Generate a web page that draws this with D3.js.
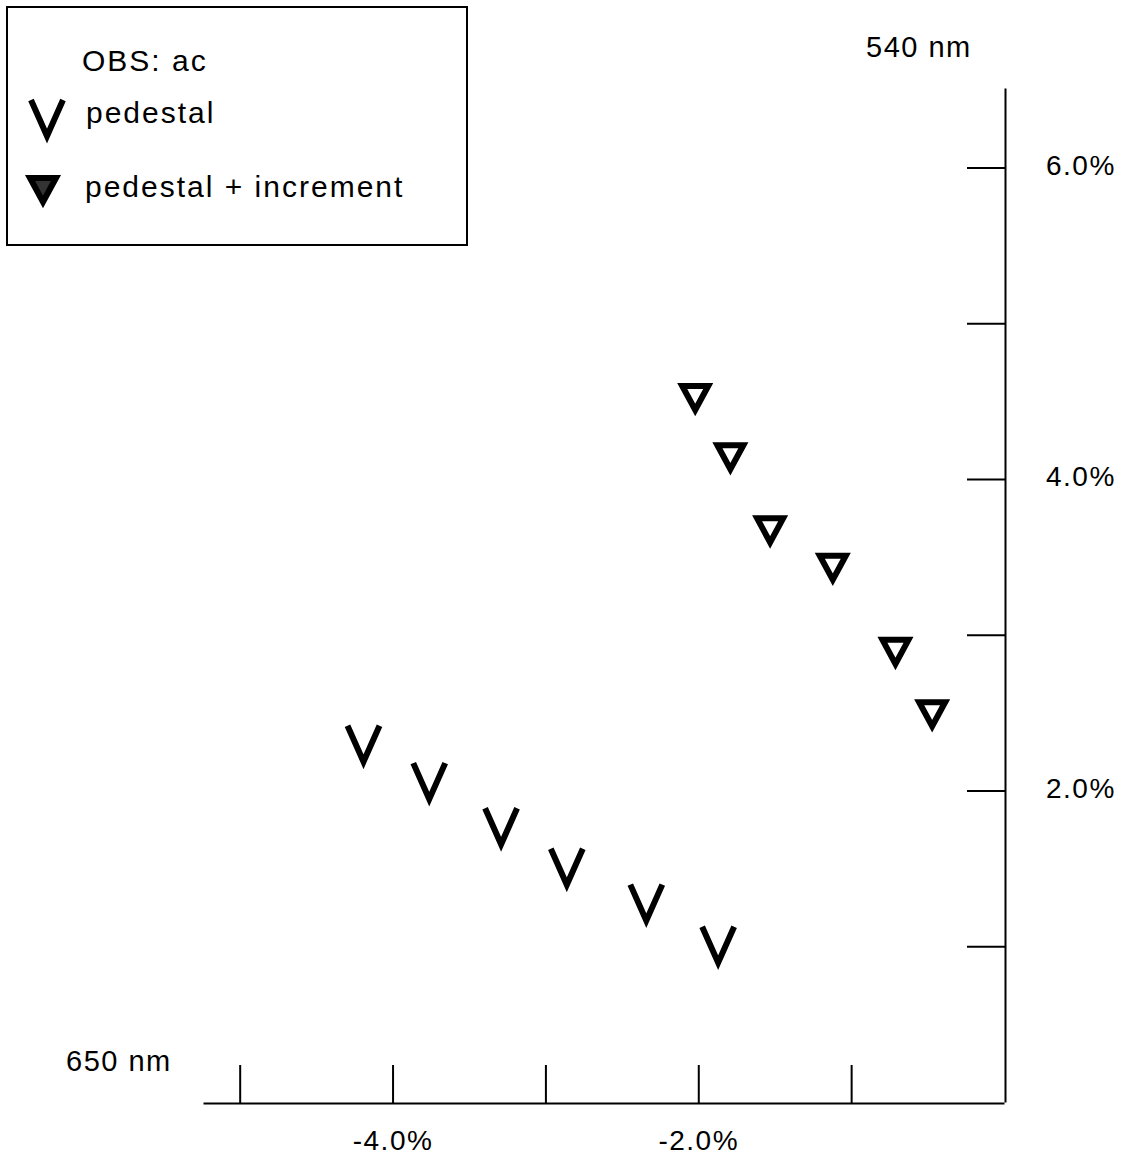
<!DOCTYPE html>
<html>
<head>
<meta charset="utf-8">
<script src="https://cdn.jsdelivr.net/npm/d3@7"></script>
<style>
  body { margin: 0; background: #fff; }
  svg { display: block; font-family: "Liberation Sans", Arial, Helvetica, sans-serif; }
</style>
</head>
<body>
<div id="chart"></div>
<script>
// values (percent)
const pedestalX = [-4.19, -3.76, -3.29, -2.86, -2.34, -1.87];
const pedestalY = [2.30, 2.06, 1.77, 1.51, 1.28, 1.01];
const incrementX = [-2.02, -1.79, -1.53, -1.12, -0.71, -0.47];
const incrementY = [4.52, 4.14, 3.67, 3.43, 2.89, 2.49];

const xTicks = [-5, -4, -3, -2, -1];
const xTickLabels = {"-4": "-4.0%", "-2": "-2.0%"};
const yTicks = [1, 2, 3, 4, 5, 6];
const yTickLabels = {"2": "2.0%", "4": "4.0%", "6": "6.0%"};

const legendTitle = "OBS: ac";
const seriesNames = ["pedestal", "pedestal + increment"];

const width = 1130, height = 1159;

const x = d3.scaleLinear([-5.24, 0], [203, 1004]);
const y = d3.scaleLinear([0, 6.51], [1102, 88]);

const svg = d3.select("#chart").append("svg")
    .attr("width", width)
    .attr("height", height)
    .attr("viewBox", [0, 0, width, height]);

// bottom axis, ticks pointing up
svg.append("g")
    .attr("transform", `translate(0,${y(0) + 1})`)
    .call(d3.axisBottom(x)
        .tickValues(xTicks)
        .tickSizeInner(-38)
        .tickSizeOuter(0)
        .tickPadding(27)
        .tickFormat(d => xTickLabels[d] || ""))
    .call(g => g.select(".domain").attr("stroke-width", 2))
    .call(g => g.selectAll(".tick line").attr("stroke-width", 2))
    .call(g => g.selectAll(".tick text")
        .attr("font-size", 28)
        .attr("letter-spacing", 1.5)
        .attr("fill", "#000"));

// right axis, ticks pointing left, labels on the right
svg.append("g")
    .attr("transform", `translate(${x(0) + 1},0)`)
    .call(d3.axisRight(y)
        .tickValues(yTicks)
        .tickSizeInner(-38)
        .tickSizeOuter(0)
        .tickPadding(41)
        .tickFormat(d => yTickLabels[d] || ""))
    .call(g => g.select(".domain").attr("stroke-width", 2))
    .call(g => g.selectAll(".tick line").attr("stroke-width", 2))
    .call(g => g.selectAll(".tick text")
        .attr("font-size", 28)
        .attr("letter-spacing", 1.5)
        .attr("dy", "0.25em")
        .attr("fill", "#000"));

// axis end labels
svg.append("text")
    .attr("x", 866).attr("y", 57)
    .attr("font-size", 29)
    .attr("letter-spacing", 1.5)
    .text("540 nm");
svg.append("text")
    .attr("x", 66).attr("y", 1071)
    .attr("font-size", 29)
    .attr("letter-spacing", 1.5)
    .text("650 nm");

// markers
const vPath = "M-16,-18L0,18L16,-18";
const triPath = "M-13,-12L13,-12L0,12Z";

function drawV(sel) {
  sel.append("path")
      .attr("d", vPath)
      .attr("fill", "none")
      .attr("stroke", "#000")
      .attr("stroke-width", 6)
      .attr("stroke-linejoin", "miter")
      .attr("stroke-miterlimit", 10);
}
function drawTri(sel, fill) {
  sel.append("path")
      .attr("d", triPath)
      .attr("fill", fill)
      .attr("stroke", "#000")
      .attr("stroke-width", 6)
      .attr("stroke-linejoin", "miter")
      .attr("stroke-miterlimit", 10);
}

svg.append("g")
  .selectAll("g")
  .data(d3.range(pedestalX.length))
  .join("g")
    .attr("transform", i => `translate(${x(pedestalX[i])},${y(pedestalY[i])})`)
    .call(drawV);

svg.append("g")
  .selectAll("g")
  .data(d3.range(incrementX.length))
  .join("g")
    .attr("transform", i => `translate(${x(incrementX[i])},${y(incrementY[i])})`)
    .call(g => drawTri(g, "#fff"));

// legend
const legend = svg.append("g")
    .attr("font-size", 30)
    .attr("letter-spacing", 2);
legend.append("rect")
    .attr("x", 7).attr("y", 7)
    .attr("width", 460).attr("height", 238)
    .attr("fill", "none")
    .attr("stroke", "#000")
    .attr("stroke-width", 2);
legend.append("text")
    .attr("x", 82).attr("y", 71)
    .text(legendTitle);
legend.append("g")
    .attr("transform", "translate(47,118)")
    .call(drawV);
legend.append("text")
    .attr("x", 86).attr("y", 123)
    .text(seriesNames[0]);
legend.append("g")
    .attr("transform", "translate(43,190)")
    .call(g => drawTri(g, "#333"));
legend.append("text")
    .attr("x", 85).attr("y", 197)
    .text(seriesNames[1]);
</script>
</body>
</html>
